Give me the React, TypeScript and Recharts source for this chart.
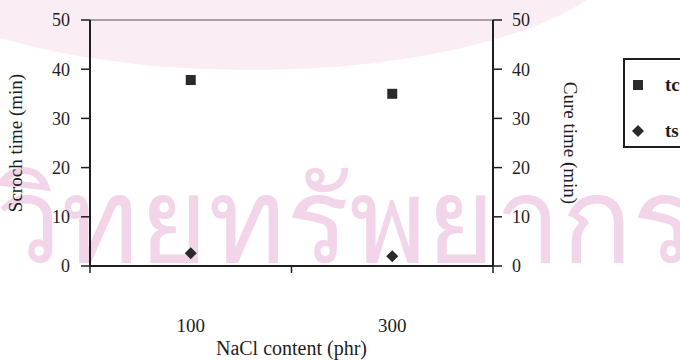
import { ScatterChart, Scatter, XAxis, YAxis, ReferenceLine, Legend } from 'recharts';

const naclContent = [100, 300];
const tcValues = [37.8, 35.0];
const tsValues = [2.6, 2.0];
const yTicks = [0, 10, 20, 30, 40, 50];
const xTicks = [0, 100, 200, 300, 400];
const xLabels = ['100', '300'];

const tcData = naclContent.map((x, i) => ({ x, y: tcValues[i] }));
const tsData = naclContent.map((x, i) => ({ x, y: tsValues[i] }));

const INK = '#1e1e1e';
const FONT = '"Liberation Serif", "Times New Roman", serif';

const Square = ({ cx, cy }: any) => <rect x={cx - 5} y={cy - 5} width={10} height={10} fill="#2a2a2a" />;
const Diamond = ({ cx, cy }: any) => (
    <polygon points={`${cx},${cy - 6} ${cx + 6},${cy} ${cx},${cy + 6} ${cx - 6},${cy}`} fill="#2a2a2a" />
);

// boundary ticks get a mark, the category values get a label far below the axis
const XTick = ({ x, y, payload }: any) => {
    const v = payload.value;
    if (v % 200 === 0) return <line x1={x} x2={x} y1={y} y2={y + 7} stroke={INK} strokeWidth={1.5} />;
    const idx = naclContent.indexOf(v);
    return (
        <text x={x} y={y + 66} textAnchor="middle" fontFamily={FONT} fontSize={19} fill={INK}>
            {xLabels[idx]}
        </text>
    );
};

const AxisTitle = ({ viewBox, text, side }: any) => {
    const { x, y, width, height } = viewBox;
    if (side === 'bottom') {
        return (
            <text x={x + width / 2} y={y + height - 5} textAnchor="middle" fontFamily={FONT} fontSize={20} fill={INK}>
                {text}
            </text>
        );
    }
    const cx = side === 'left' ? x + 15 : x + 77;
    const cy = y + height / 2;
    return (
        <text
            x={cx}
            y={cy}
            textAnchor="middle"
            dominantBaseline="central"
            transform={`rotate(${side === 'left' ? -90 : 90}, ${cx}, ${cy})`}
            fontFamily={FONT}
            fontSize={19}
            fill={INK}
        >
            {text}
        </text>
    );
};

const LegendBox = () => (
    <div style={{ border: `2px solid ${INK}`, width: 90, height: 90, boxSizing: 'border-box', background: '#fff', fontFamily: FONT }}>
        {[
            { name: 'tc', Shape: Square },
            { name: 'ts', Shape: Diamond },
        ].map(({ name, Shape }, i) => (
            <div key={name} style={{ display: 'flex', alignItems: 'center', height: 22, marginTop: i === 0 ? 14 : 24 }}>
                <svg width={28} height={20}>
                    <Shape cx={13} cy={10} />
                </svg>
                <span style={{ fontWeight: 'bold', fontSize: 19, color: INK, marginLeft: 12 }}>{name}</span>
            </div>
        ))}
    </div>
);

export default function App() {
    return (
        <div style={{ position: 'absolute', left: 0, top: 0, width: 680, height: 360, background: '#fff', overflow: 'hidden' }}>
            {/* faint scan watermark behind the chart */}
            <svg width={680} height={360} style={{ position: 'absolute', left: 0, top: 0 }}>
                <ellipse cx={250} cy={-60} rx={380} ry={130} fill="#faeef4" />
                <text x={-5} y={262} fontFamily='"Noto Sans", "DejaVu Sans", sans-serif' fontSize={118} fill="#f2d5e9" textLength={700}>
                    วิทยทรัพยากร
                </text>
            </svg>
            <div style={{ position: 'absolute', left: 0, top: 0 }}>
                <ScatterChart width={680} height={360} margin={{ top: 20, right: 90, bottom: 0, left: 0 }}>
                    <XAxis
                        type="number"
                        dataKey="x"
                        domain={[0, 400]}
                        ticks={xTicks}
                        interval={0}
                        height={94}
                        axisLine={{ stroke: INK, strokeWidth: 2 }}
                        tickLine={false}
                        tickSize={0}
                        tickMargin={0}
                        tick={<XTick />}
                        label={<AxisTitle text="NaCl content (phr)" side="bottom" />}
                    />
                    <YAxis
                        yAxisId="left"
                        type="number"
                        dataKey="y"
                        domain={[0, 50]}
                        ticks={yTicks}
                        width={90}
                        axisLine={{ stroke: INK, strokeWidth: 2 }}
                        tickLine={{ stroke: INK, strokeWidth: 1.5 }}
                        tickSize={9}
                        tickMargin={11}
                        tick={{ fontFamily: FONT, fontSize: 18, fill: INK }}
                        label={<AxisTitle text="Scroch time (min)" side="left" />}
                    />
                    <YAxis
                        yAxisId="right"
                        orientation="right"
                        type="number"
                        dataKey="y"
                        domain={[0, 50]}
                        ticks={yTicks}
                        width={97}
                        axisLine={{ stroke: INK, strokeWidth: 2 }}
                        tickLine={{ stroke: INK, strokeWidth: 1.5 }}
                        tickSize={9}
                        tickMargin={10}
                        tick={{ fontFamily: FONT, fontSize: 18, fill: INK, textAnchor: 'start' }}
                        label={<AxisTitle text="Cure time (min)" side="right" />}
                    />
                    <ReferenceLine yAxisId="left" y={50} stroke="#555" strokeWidth={1} />
                    <Scatter name="ts" yAxisId="left" data={tsData} shape={<Diamond />} isAnimationActive={false} />
                    <Scatter name="tc" yAxisId="right" data={tcData} shape={<Square />} isAnimationActive={false} />
                    <Legend
                        layout="vertical"
                        align="center"
                        verticalAlign="middle"
                        wrapperStyle={{ left: 623, top: 58, width: 90 }}
                        content={<LegendBox />}
                    />
                </ScatterChart>
            </div>
        </div>
    );
}
